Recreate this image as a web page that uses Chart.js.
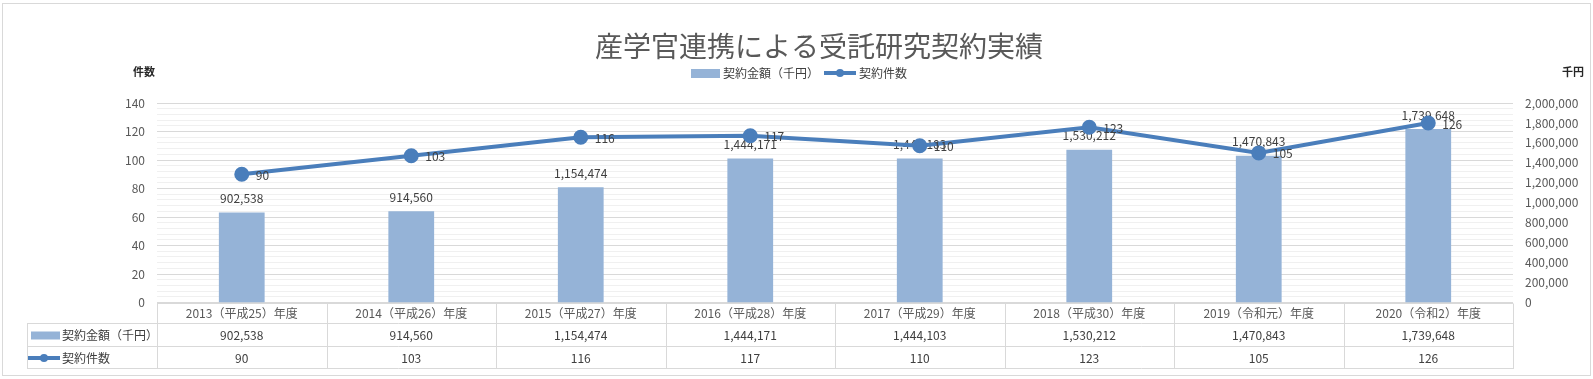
<!DOCTYPE html>
<html lang="ja">
<head>
<meta charset="utf-8">
<title>産学官連携による受託研究契約実績</title>
<script src="https://cdn.jsdelivr.net/npm/chart.js@4.4.1/dist/chart.umd.min.js"></script>
<style>
    html, body { margin: 0; padding: 0; background: #fff; }
    #wrap { width: 1593px; height: 379px; }
</style>
</head>
<body>
<div id="wrap"><canvas id="chart"></canvas></div>
<script>
const chartTitle = '産学官連携による受託研究契約実績';
const amountName = '契約金額（千円）';
const countName = '契約件数';
const leftAxisTitle = '件数';
const rightAxisTitle = '千円';

const years = [
    '2013（平成25）年度',
    '2014（平成26）年度',
    '2015（平成27）年度',
    '2016（平成28）年度',
    '2017（平成29）年度',
    '2018（平成30）年度',
    '2019（令和元）年度',
    '2020（令和2）年度'
];
const amounts = [902538, 914560, 1154474, 1444171, 1444103, 1530212, 1470843, 1739648];
const counts = [90, 103, 116, 117, 110, 123, 105, 126];

// axis ranges: left = count, right = amount
const countAxis = [0, 140, 20, 4];          // min, max, labelled step, minor step
const amountAxis = [0, 2000000, 200000];    // min, max, step

const FONT = '"Noto Sans CJK JP", "Noto Sans", sans-serif';
const BAR_COLOR = '#95b3d7';
const LINE_COLOR = '#4a7ebb';
const TEXT_COLOR = '#404040';
const AXIS_COLOR = '#595959';
const RULE_COLOR = '#d9d9d9';

const fmt = (v) => v.toLocaleString('en-US');

// table rows under the plot
const ROW1_BOTTOM = 323;
const ROW2_BOTTOM = 346;
const ROW3_BOTTOM = 368;
const TABLE_LEFT = 27;

const framePlugin = {
    id: 'frame',
    beforeDraw(chart) {
        const ctx = chart.ctx;
        ctx.save();
        ctx.fillStyle = '#fff';
        ctx.fillRect(0, 0, chart.width, chart.height);
        ctx.strokeStyle = RULE_COLOR;
        ctx.lineWidth = 1;
        ctx.strokeRect(2.5, 3.5, chart.width - 5, chart.height - 7);
        ctx.restore();
    }
};

const drawLineSwatch = (ctx, x1, x2, y) => {
    ctx.strokeStyle = LINE_COLOR;
    ctx.lineWidth = 4;
    ctx.beginPath();
    ctx.moveTo(x1, y);
    ctx.lineTo(x2, y);
    ctx.stroke();
    ctx.fillStyle = LINE_COLOR;
    ctx.beginPath();
    ctx.arc((x1 + x2) / 2, y, 4, 0, Math.PI * 2);
    ctx.fill();
};

const headerPlugin = {
    id: 'header',
    afterDraw(chart) {
        const ctx = chart.ctx;
        ctx.save();

        ctx.fillStyle = AXIS_COLOR;
        ctx.font = '28px ' + FONT;
        ctx.textAlign = 'center';
        ctx.textBaseline = 'middle';
        ctx.fillText(chartTitle, 819, 46);

        // legend
        ctx.font = '12px ' + FONT;
        ctx.textAlign = 'left';
        ctx.fillStyle = BAR_COLOR;
        ctx.fillRect(691, 69, 29, 9);
        ctx.fillStyle = TEXT_COLOR;
        ctx.fillText(amountName, 723, 73);
        drawLineSwatch(ctx, 824, 856, 73);
        ctx.fillStyle = TEXT_COLOR;
        ctx.fillText(countName, 859, 73);

        // axis titles
        ctx.font = 'bold 11px ' + FONT;
        ctx.fillStyle = '#262626';
        ctx.textAlign = 'center';
        ctx.fillText(leftAxisTitle, 144, 72);
        ctx.fillText(rightAxisTitle, 1573, 72);

        ctx.restore();
    }
};

const valueLabelPlugin = {
    id: 'valueLabels',
    afterDatasetDraw(chart, args) {
        if (chart.data.datasets[args.index].type !== 'bar') return;
        const ctx = chart.ctx;
        ctx.save();
        ctx.font = '12px ' + FONT;
        ctx.fillStyle = TEXT_COLOR;
        ctx.textAlign = 'center';
        ctx.textBaseline = 'middle';
        args.meta.data.forEach((bar, i) => {
            ctx.fillText(fmt(amounts[i]), bar.x, bar.y - 14);
        });
        ctx.restore();
    },
    afterDatasetsDraw(chart) {
        const ctx = chart.ctx;
        ctx.save();
        ctx.font = '12px ' + FONT;
        ctx.fillStyle = TEXT_COLOR;
        ctx.textAlign = 'left';
        ctx.textBaseline = 'middle';
        chart.getDatasetMeta(0).data.forEach((pt, i) => {
            ctx.fillText(String(counts[i]), pt.x + 14, pt.y + 1);
        });
        ctx.restore();
    }
};

const tablePlugin = {
    id: 'dataTable',
    afterDraw(chart) {
        const ctx = chart.ctx;
        const area = chart.chartArea;
        const x = chart.scales.x;
        const band = (area.right - area.left) / years.length;
        const top = Math.round(area.bottom) + 0.5;
        ctx.save();

        ctx.strokeStyle = RULE_COLOR;
        ctx.lineWidth = 1;
        ctx.beginPath();
        ctx.moveTo(area.left, top);
        ctx.lineTo(area.right, top);
        [ROW1_BOTTOM, ROW2_BOTTOM, ROW3_BOTTOM].forEach((y) => {
            ctx.moveTo(TABLE_LEFT, y + 0.5);
            ctx.lineTo(area.right, y + 0.5);
        });
        ctx.moveTo(TABLE_LEFT + 0.5, ROW1_BOTTOM);
        ctx.lineTo(TABLE_LEFT + 0.5, ROW3_BOTTOM + 1);
        for (let i = 0; i <= years.length; i++) {
            const bx = Math.round(area.left + band * i) + 0.5;
            ctx.moveTo(bx, top);
            ctx.lineTo(bx, ROW3_BOTTOM + 1);
        }
        ctx.stroke();

        // row headers
        const row2 = (ROW1_BOTTOM + ROW2_BOTTOM) / 2 + 1;
        const row3 = (ROW2_BOTTOM + ROW3_BOTTOM) / 2 + 1;
        ctx.fillStyle = BAR_COLOR;
        ctx.fillRect(31, row2 - 4, 29, 8);
        drawLineSwatch(ctx, 28, 60, row3);

        ctx.font = '12px ' + FONT;
        ctx.fillStyle = TEXT_COLOR;
        ctx.textAlign = 'left';
        ctx.textBaseline = 'middle';
        ctx.fillText(amountName, 62, row2);
        ctx.fillText(countName, 62, row3);

        ctx.textAlign = 'center';
        years.forEach((_, i) => {
            const cx = x.getPixelForValue(i);
            ctx.fillText(fmt(amounts[i]), cx, row2);
            ctx.fillText(String(counts[i]), cx, row3);
        });

        ctx.restore();
    }
};

const onload = () => {
    Chart.defaults.font.family = FONT;
    Chart.defaults.font.size = 12;
    Chart.defaults.color = AXIS_COLOR;

    const ctx = document.getElementById('chart').getContext('2d');
    new Chart(ctx, {
        data: {
            labels: years,
            datasets: [{
                type: 'line',
                label: countName,
                data: counts,
                yAxisID: 'y',
                order: 0,
                borderColor: LINE_COLOR,
                backgroundColor: LINE_COLOR,
                borderWidth: 4,
                pointRadius: 5.5,
                pointHoverRadius: 5.5,
                tension: 0
            }, {
                type: 'bar',
                label: amountName,
                data: amounts,
                yAxisID: 'y1',
                order: 1,
                backgroundColor: BAR_COLOR,
                barPercentage: 0.27,
                categoryPercentage: 1
            }]
        },
        options: {
            responsive: true,
            maintainAspectRatio: false,
            devicePixelRatio: 1,
            animation: false,
            layout: { padding: { top: 103, left: 0, right: 0, bottom: 0 } },
            plugins: {
                legend: { display: false },
                title: { display: false },
                tooltip: { enabled: false }
            },
            scales: {
                x: {
                    grid: { display: false, drawTicks: false },
                    border: { display: false },
                    ticks: { padding: 4, color: AXIS_COLOR, maxRotation: 0, autoSkip: false },
                    afterFit: (scale) => { scale.height = 379 - 302.5; }
                },
                y: {
                    position: 'left',
                    min: countAxis[0],
                    max: countAxis[1],
                    grid: {
                        drawTicks: false,
                        color: (c) => (c.tick.value % countAxis[2] === 0 ? RULE_COLOR : '#f0f0f0')
                    },
                    border: { display: false },
                    ticks: {
                        stepSize: countAxis[3],
                        autoSkip: false,
                        padding: 12,
                        callback: (v) => (v % countAxis[2] === 0 ? v : '')
                    },
                    afterFit: (scale) => { scale.width = 157; }
                },
                y1: {
                    position: 'right',
                    min: amountAxis[0],
                    max: amountAxis[1],
                    grid: { display: false, drawTicks: false },
                    border: { display: false },
                    ticks: {
                        stepSize: amountAxis[2],
                        autoSkip: false,
                        padding: 12,
                        callback: (v) => fmt(v)
                    },
                    afterFit: (scale) => { scale.width = 80; }
                }
            }
        },
        plugins: [framePlugin, valueLabelPlugin, tablePlugin, headerPlugin]
    });
};

document.addEventListener('DOMContentLoaded', onload);
</script>
</body>
</html>
